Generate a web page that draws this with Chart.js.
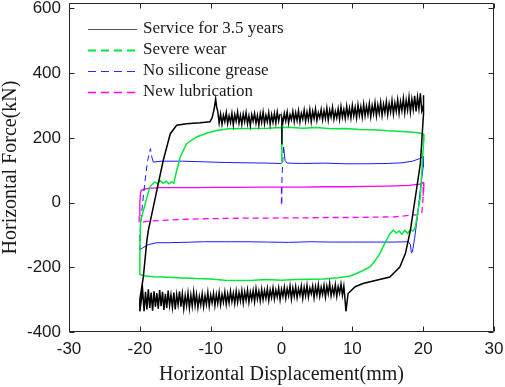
<!DOCTYPE html>
<html>
<head>
<meta charset="utf-8">
<script src="https://cdn.jsdelivr.net/npm/chart.js@4/dist/chart.umd.min.js"></script>
<style>
html,body{margin:0;padding:0;background:#fff;}
canvas{display:block;}
</style>
</head>
<body>
<canvas id="c" width="505" height="387"></canvas>
<script>
// ---- Data ----
const seriesLabels = ["Service for 3.5 years", "Severe wear", "No silicone grease", "New lubrication"];
const xTickValues = [-30, -20, -10, 0, 10, 20, 30];
const yTickValues = [-400, -200, 0, 200, 400, 600];

// Service for 3.5 years: drawn in order (start, upper band right part, unloading, lower band, reloading, upper band left part)
const blackStartX = [0.0, 0.05];
const blackStartY = [182, 262];
const blackTop1X = [0.2,0.4,0.6,0.8,1.0,1.2,1.4,1.6,1.8,2.0,
 2.2,2.4,2.6,2.8,3.0,3.2,3.4,3.6,3.8,4.0,
 4.2,4.4,4.6,4.8,5.0,5.2,5.4,5.6,5.8,6.0,
 6.2,6.4,6.6,6.8,7.0,7.2,7.4,7.6,7.8,8.0,
 8.2,8.4,8.6,8.8,9.0,9.2,9.4,9.6,9.8,10.0,
 10.2,10.4,10.6,10.8,11.0,11.2,11.4,11.6,11.8,12.0,
 12.2,12.4,12.6,12.8,13.0,13.2,13.4,13.6,13.8,14.0,
 14.2,14.4,14.6,14.8,15.0,15.2,15.4,15.6,15.8,16.0,
 16.2,16.4,16.6,16.8,17.0,17.2,17.4,17.6,17.8,18.0,
 18.2,18.4,18.6,18.8,19.0,19.2,19.4,19.6,19.8];
const blackTop1Y = [248,276,252,280,246,272,256,282,250,278,
 254,284,249,276,258,286,252,280,256,288,
 250,282,260,290,254,278,262,288,256,284,
 260,292,255,286,264,294,258,282,262,290,
 258,296,264,288,260,298,266,292,262,300,
 268,294,262,302,270,296,264,304,268,298,
 272,306,266,300,274,308,268,302,276,310,
 270,304,278,312,272,306,280,316,274,308,
 282,318,276,312,284,322,278,316,286,326,
 280,320,288,330,282,326,290,338,284];
const blackDownX = [20.0,20.1,20.0,19.6,18.9,18.2,17.5,16.7,15.3,13.4,11.5,10.4,9.4,9.1,8.95];
const blackDownY = [300,332,275,120,17,-85,-157,-199,-230,-240,-250,-260,-281,-336,-295];
const blackBottomX = [8.8,8.6,8.4,8.2,8.0,7.8,7.6,7.4,7.2,7.0,
 6.8,6.6,6.4,6.2,6.0,5.8,5.6,5.4,5.2,5.0,
 4.8,4.6,4.4,4.2,4.0,3.8,3.6,3.4,3.2,3.0,
 2.8,2.6,2.4,2.2,2.0,1.8,1.6,1.4,1.2,1.0,
 0.8,0.6,0.4,0.2,0.0,-0.2,-0.4,-0.6,-0.8,-1.0,
 -1.2,-1.4,-1.6,-1.8,-2.0,-2.2,-2.4,-2.6,-2.8,-3.0,
 -3.2,-3.4,-3.6,-3.8,-4.0,-4.2,-4.4,-4.6,-4.8,-5.0,
 -5.2,-5.4,-5.6,-5.8,-6.0,-6.2,-6.4,-6.6,-6.8,-7.0,
 -7.2,-7.4,-7.6,-7.8,-8.0,-8.2,-8.4,-8.6,-8.8,-9.0,
 -9.2,-9.4,-9.6,-9.8,-10.0,-10.2,-10.4,-10.6,-10.8,-11.0,
 -11.2,-11.4,-11.6,-11.8,-12.0,-12.2,-12.4,-12.6,-12.8,-13.0,
 -13.2,-13.4,-13.6,-13.8,-14.0,-14.2,-14.4,-14.6,-14.8,-15.0,
 -15.2,-15.4,-15.6,-15.8,-16.0,-16.2,-16.4,-16.6,-16.8,-17.0,
 -17.2,-17.4,-17.6,-17.8,-18.0,-18.2,-18.4,-18.6,-18.8,-19.0,
 -19.2,-19.4,-19.6];
const blackBottomY = [-258,-286,-252,-280,-260,-290,-254,-284,-262,-288,
 -250,-282,-258,-292,-256,-284,-262,-290,-254,-286,
 -260,-294,-258,-282,-264,-292,-256,-288,-262,-296,
 -258,-286,-266,-294,-260,-290,-264,-298,-258,-288,
 -266,-296,-262,-290,-268,-300,-264,-292,-270,-298,
 -264,-294,-270,-302,-266,-296,-272,-300,-268,-304,
 -274,-298,-266,-306,-272,-300,-276,-308,-270,-302,
 -276,-310,-272,-304,-278,-308,-274,-312,-280,-306,
 -274,-310,-282,-314,-276,-308,-284,-316,-278,-312,
 -284,-318,-280,-310,-286,-320,-278,-314,-288,-322,
 -282,-316,-290,-324,-284,-318,-276,-320,-286,-326,
 -280,-318,-288,-328,-282,-322,-274,-316,-284,-330,
 -278,-324,-286,-318,-272,-326,-282,-332,-276,-320,
 -270,-328,-280,-322,-274,-334,-278,-326,-268,-330,
 -276,-336,-272];
const blackUpX = [-20.0,-20.0,-19.5,-19.0,-18.8,-17.9,-16.7,-15.7,-14.8,-13.4,-11.5,-10.1,-9.8,-9.5,-9.3,-9.15];
const blackUpY = [-336,-300,-229,-116,-86,7,130,213,239,244,247,250,262,290,320,295];
const blackTop2X = [-9.0,-8.8,-8.6,-8.4,-8.2,-8.0,-7.8,-7.6,-7.4,-7.2,
 -7.0,-6.8,-6.6,-6.4,-6.2,-6.0,-5.8,-5.6,-5.4,-5.2,
 -5.0,-4.8,-4.6,-4.4,-4.2,-4.0,-3.8,-3.6,-3.4,-3.2,
 -3.0,-2.8,-2.6,-2.4,-2.2,-2.0,-1.8,-1.6,-1.4,-1.2,
 -1.0,-0.8,-0.6,-0.4,-0.2];
const blackTop2Y = [282,246,274,242,270,250,278,244,268,248,
 276,240,272,252,280,246,270,242,274,250,
 278,244,268,238,272,252,276,246,270,240,
 274,248,280,244,270,250,278,242,272,248,
 276,246,280,252,274];

const greenX = [0.0,0.05,0.1,1,3,5,7,9,11,13,15,17,19,20,20.1,19.6,18.9,18.6,18.2,17.8,17.4,17.0,16.6,16.2,15.8,15.3,14.6,13.9,13.2,12.5,11.5,10.6,9.7,8,6,4,2,0,-2,-4,-6,-8,-10,-12,-14,-16,-18,-19.5,-20,-20,-19.9,-19.5,-18.6,-17.9,-17.5,-17.1,-16.7,-16.3,-15.9,-15.5,-15.2,-14.9,-14.3,-13.4,-12,-10.5,-9.2,-7.5,-5,-2,0];
const greenY = [125,180,232,233,230,232,228,229,226,225,222,220,217,213,205,17,-75,-88,-84,-95,-86,-98,-88,-94,-85,-96,-125,-157,-180,-199,-210,-219,-227,-232,-236,-237,-238,-240,-238,-240,-241,-240,-236,-235,-233,-231,-229,-226,-222,-150,-60,-24,48,64,58,68,60,66,58,64,60,90,141,182,203,215,223,228,229,230,232];

const blueX = [0.0,0.05,0.15,0.3,0.5,0.8,3,6,9,12,15,17,18.5,19.5,20,20,19.6,19.2,18.8,18.5,18.35,18.2,17.9,16,13,10,7,4,1,-2,-5,-8,-11,-14,-16,-17.6,-18.8,-19.6,-20.1,-20.0,-19.7,-19.3,-18.9,-18.5,-18.3,-18.1,-17,-14,-11,-8,-5,-2,0];
const blueY = [0,60,120,172,130,122,121,122,120,120,121,123,128,136,143,110,40,-40,-110,-150,-156,-130,-121,-122,-122,-122,-122,-121,-123,-122,-121,-121,-121,-123,-124,-124,-130,-140,-147,-100,-20,60,130,167,140,125,128,128,126,124,123,122,121];

const magentaX = [0.0,0.0,0.0,0.5,3,6,9,12,15,18,19.5,20,20.1,20.0,19.9,19.8,19.2,18.3,16,13,10,7,4,1,-2,-5,-8,-11,-14,-17,-19,-20,-20.1,-20.0,-19.9,-19.8,-19.1,-17.3,-15,-12,-9,-6,-3,0];
const magentaY = [-5,20,48,48,48,49,49,50,51,53,57,62,50,20,-10,-34,-37,-39,-44,-45,-46,-46,-47,-47,-48,-48,-49,-50,-52,-55,-58,-62,-40,0,30,38,43,46,46,46,47,47,48,48];

const blackX = [].concat(blackStartX, blackTop1X, blackDownX, blackBottomX, blackUpX, blackTop2X);
const blackY = [].concat(blackStartY, blackTop1Y, blackDownY, blackBottomY, blackUpY, blackTop2Y);

// ---- Styles ----
const colors = ["#000000", "#00e83c", "#1a1aff", "#ff00ff"];
const widths = [1.5, 1.5, 1, 1.3];
const dashRanges = [[], [], [[0, 3], [38, 44]], [[0, 2], [12, 32]]];
const legendDash = [[], [8, 5], [8, 5], [8, 5]];
const legendColors = ["#555555", "#00e83c", "#2a2aff", "#ff00ff"];
const legendWidths = [1, 2, 1.2, 1.5];

function pts(xs, ys) { return xs.map((x, i) => ({x: x, y: ys[i]})); }
const allX = [blackX, greenX, blueX, magentaX];
const allY = [blackY, greenY, blueY, magentaY];

const datasets = seriesLabels.map((lab, k) => ({
  label: lab,
  data: pts(allX[k], allY[k]),
  showLine: true,
  borderColor: colors[k],
  backgroundColor: colors[k],
  borderWidth: widths[k],
  pointRadius: 0,
  tension: 0,
  fill: false,
  segment: {
    borderDash: ctx => {
      const i = ctx.p0DataIndex;
      for (const r of dashRanges[k]) { if (i >= r[0] && i < r[1]) return [6, 4]; }
      return undefined;
    }
  }
}));

const boxPlugin = {
  id: 'boxTicks',
  afterDatasetsDraw(chart) {
    const {ctx, chartArea: a, scales} = chart;
    const xs = scales.x, ys = scales.y;
    ctx.save();
    ctx.strokeStyle = '#262626';
    ctx.lineWidth = 1;
    ctx.setLineDash([]);
    const L = Math.round(a.left) + 0.5, R = Math.round(a.right) - 0.5;
    const T = Math.round(a.top) + 0.5, B = Math.round(a.bottom) - 0.5;
    ctx.beginPath();
    ctx.rect(L, T, R - L, B - T);
    const tl = 5;
    xTickValues.forEach(v => {
      const p = Math.round(xs.getPixelForValue(v)) + 0.5;
      ctx.moveTo(p, B); ctx.lineTo(p, B - tl);
      ctx.moveTo(p, T); ctx.lineTo(p, T + tl);
    });
    yTickValues.forEach(v => {
      const p = Math.round(ys.getPixelForValue(v)) + 0.5;
      ctx.moveTo(L, p); ctx.lineTo(L + tl, p);
      ctx.moveTo(R, p); ctx.lineTo(R - tl, p);
    });
    ctx.stroke();
    ctx.restore();
  },
  afterDraw(chart) {
    const ctx = chart.ctx;
    chart.data.datasets.forEach((ds, i) => {
      const yy = 29 + i * 21;
      ctx.save();
      ctx.beginPath();
      ctx.setLineDash(legendDash[i]);
      ctx.strokeStyle = legendColors[i];
      ctx.lineWidth = legendWidths[i];
      ctx.moveTo(88, yy + 0.5);
      ctx.lineTo(137, yy + 0.5);
      ctx.stroke();
      ctx.restore();
      ctx.save();
      ctx.font = '17px "Liberation Serif", "Times New Roman", serif';
      ctx.textBaseline = 'middle';
      ctx.textAlign = 'left';
      ctx.fillStyle = '#1a1a1a';
      ctx.fillText(ds.label, 143, yy);
      ctx.restore();
    });
  }
};

new Chart(document.getElementById('c'), {
  type: 'scatter',
  data: {datasets: datasets},
  options: {
    responsive: false,
    animation: false,
    devicePixelRatio: 1,
    layout: {padding: {left: 0, right: 11, top: 3, bottom: 0}},
    plugins: {legend: {display: false}, tooltip: {enabled: false}},
    scales: {
      x: {
        type: 'linear', min: -30, max: 30,
        grid: {display: false, drawTicks: false},
        border: {display: false},
        ticks: {padding: 7, color: '#1a1a1a', font: {family: '"Liberation Sans", Arial, sans-serif', size: 17}},
        title: {display: true, text: 'Horizontal Displacement(mm)', color: '#1a1a1a',
                font: {family: '"Liberation Serif", "Times New Roman", serif', size: 20, lineHeight: 1},
                padding: {top: 0, bottom: 2}},
        afterBuildTicks(s) { s.ticks = xTickValues.map(v => ({value: v})); },
        afterFit(s) { s.height = 55; s.paddingLeft = 0; s.paddingRight = 0; }
      },
      y: {
        type: 'linear', min: -400, max: 617,
        grid: {display: false, drawTicks: false},
        border: {display: false},
        ticks: {padding: 8, color: '#1a1a1a', font: {family: '"Liberation Sans", Arial, sans-serif', size: 17}},
        title: {display: true, text: 'Horizontal Force(kN)', color: '#1a1a1a',
                font: {family: '"Liberation Serif", "Times New Roman", serif', size: 20, lineHeight: 1},
                padding: {top: 1, bottom: 0}},
        afterBuildTicks(s) { s.ticks = yTickValues.map(v => ({value: v})); },
        afterFit(s) { s.width = 69; s.paddingTop = 0; s.paddingBottom = 0; }
      }
    }
  },
  plugins: [boxPlugin]
});
</script>
</body>
</html>
